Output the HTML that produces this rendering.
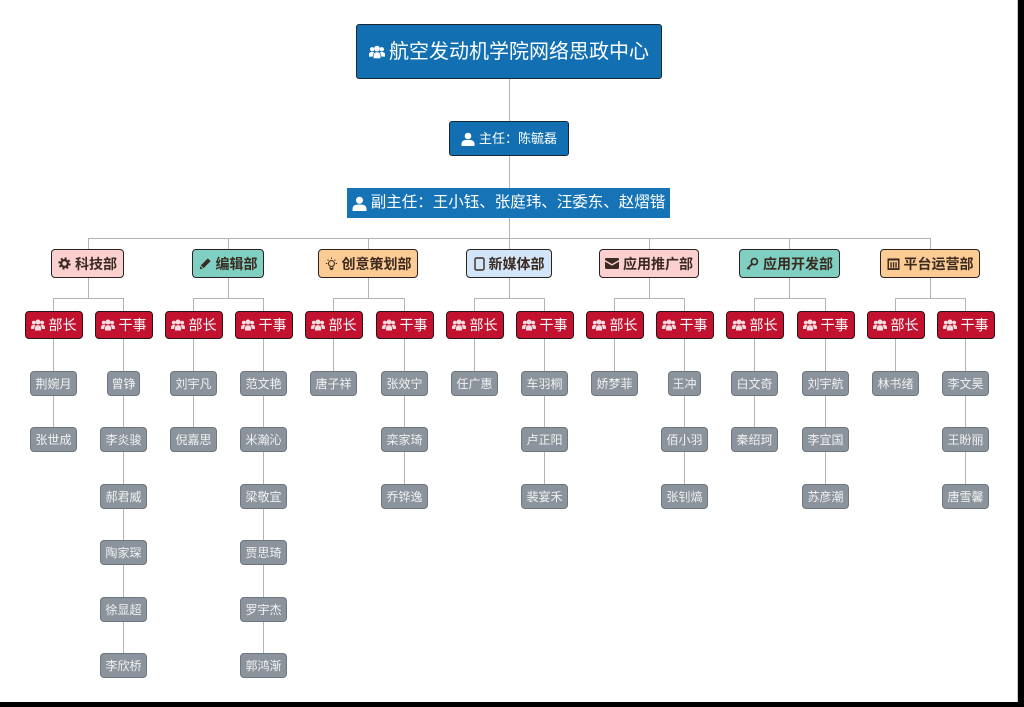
<!DOCTYPE html>
<html><head><meta charset="utf-8">
<style>
*{margin:0;padding:0;box-sizing:border-box}
html,body{width:1024px;height:707px;overflow:hidden;background:#fff}
body{position:relative;font-family:"Liberation Sans","Noto Sans CJK SC",sans-serif}
.b{position:absolute;display:flex;align-items:center;justify-content:center;line-height:1;white-space:nowrap}
.top{left:356px;top:24px;width:306px;height:55px;background:#1270b2;border:1.5px solid #1b2733;border-radius:3px;color:#fff;font-size:20px}
.zr{left:449px;top:121px;width:120px;height:35px;background:#1270b2;border:1.5px solid #1b2733;border-radius:3px;color:#fff;font-size:13px}
.fzr{left:347px;top:188px;width:323px;height:30px;background:#1674b6;color:#fff;font-size:15.5px}
.d{top:249px;height:29px;border:1.5px solid #2a2220;border-radius:4px;color:#3a2a20;font-size:14px;font-weight:bold}
.pk{background:#fcd0cf}.tl{background:#7fd0c2}.or{background:#fdcb94}.bl{background:#d3e5f8}
.r{top:311px;width:58px;height:28px;background:#c3122f;border:1.5px solid #2b1416;border-radius:4px;color:#fff;font-size:14px}
.n{height:25px;background:#8b949c;border:1px solid #6f777e;border-radius:4px;color:#f2f2f2;font-size:12px}
.w3{width:47px}.w2{width:33px}
svg.ic{margin-right:4px;flex:none}
</style></head><body>
<svg width="1024" height="707" style="position:absolute;left:0;top:0" shape-rendering="crispEdges">
<g stroke="#b3b3b3" stroke-width="1" fill="none">
<path d="M509.5 79V121M509.5 156V188M509.5 218V238"/>
<path d="M88 238.5H930.5"/>
<path d="M88.5 238V249M88.5 278V298M53.5 298.5H123.5M53.5 298V311M123.5 298V311"/>
<path d="M228.5 238V249M228.5 278V298M193.5 298.5H263.5M193.5 298V311M263.5 298V311"/>
<path d="M368.5 238V249M368.5 278V298M333.5 298.5H404.5M333.5 298V311M404.5 298V311"/>
<path d="M509.5 238V249M509.5 278V298M474.5 298.5H544.5M474.5 298V311M544.5 298V311"/>
<path d="M649.5 238V249M649.5 278V298M614.5 298.5H684.5M614.5 298V311M684.5 298V311"/>
<path d="M789.5 238V249M789.5 278V298M754.5 298.5H825.5M754.5 298V311M825.5 298V311"/>
<path d="M930.5 238V249M930.5 278V298M895.5 298.5H965.5M895.5 298V311M965.5 298V311"/>
<path d="M53.5 339V427M123.5 339V653M193.5 339V427M263.5 339V653M333.5 339V371M404.5 339V484M474.5 339V371M544.5 339V484M614.5 339V371M684.5 339V484M754.5 339V427M825.5 339V484M895.5 339V371M965.5 339V484"/>
</g>
<rect x="1017" y="0" width="1" height="702" fill="#ccc"/>
<rect x="1018" y="0" width="6" height="707" fill="#000"/>
<rect x="0" y="702" width="1024" height="5" fill="#000"/>
</svg>

<div class="b top"><svg class="ic" width="16" height="14" viewBox="0 0 14 12" fill="#fff"><circle cx="2.8" cy="3.6" r="1.9"/><circle cx="11.2" cy="3.6" r="1.9"/><circle cx="7" cy="3" r="2.5"/><path d="M0 10V8.2C0 6.7 1 6 2.8 6 3.6 6 4.2 6.2 4.6 6.5 3.6 7.2 3.3 8.2 3.3 10Z"/><path d="M14 10V8.2C14 6.7 13 6 11.2 6 10.4 6 9.8 6.2 9.4 6.5 10.4 7.2 10.7 8.2 10.7 10Z"/><path d="M4 11.5V9C4 7.2 5.2 6.2 7 6.2S10 7.2 10 9V11.5Z"/></svg>航空发动机学院网络思政中心</div>

<div class="b zr"><svg class="ic" width="14" height="14" viewBox="0 0 14 14" fill="#fff"><circle cx="7" cy="4" r="3.3"/><path d="M0.5 14V12C0.5 9.3 2.6 8 5 8H9C11.4 8 13.5 9.3 13.5 12V14Z"/></svg>主任：陈毓磊</div>

<div class="b fzr"><svg class="ic" width="15" height="15" viewBox="0 0 14 14" fill="#fff"><circle cx="7" cy="4" r="3.3"/><path d="M0.5 14V12C0.5 9.3 2.6 8 5 8H9C11.4 8 13.5 9.3 13.5 12V14Z"/></svg>副主任：王小钰、张庭玮、汪委东、赵熠锴</div>

<!-- departments -->
<div class="b d pk" style="left:51px;width:73px"><svg class="ic" width="13" height="13" viewBox="0 0 14 14"><circle cx="7" cy="7" r="5.4" fill="none" stroke="#3a2a20" stroke-width="2.4" stroke-dasharray="2.1 2.14"/><circle cx="7" cy="7" r="3.6" fill="none" stroke="#3a2a20" stroke-width="2.4"/></svg>科技部</div>
<div class="b d tl" style="left:192px;width:72px"><svg class="ic" width="13" height="13" viewBox="0 0 14 14" fill="#3a2a20"><path d="M9.5 1.5L12.5 4.5 5 12 2 9Z"/><path d="M1.5 10L4 12.5 0.8 13.2Z"/></svg>编辑部</div>
<div class="b d or" style="left:318px;width:100px"><svg class="ic" width="13" height="14" viewBox="0 0 14 15" fill="none" stroke="#3a2a20" stroke-width="1.1"><circle cx="7" cy="7" r="3.2"/><path d="M5.5 10.5V12.5H8.5V10.5M5.8 13.6H8.2"/><path d="M7 0.5V2M1 7H2.5M11.5 7H13M2.8 2.8L3.8 3.8M11.2 2.8L10.2 3.8"/></svg>创意策划部</div>
<div class="b d bl" style="left:466px;width:86px"><svg class="ic" width="11" height="14" viewBox="0 0 11 14" fill="none" stroke="#3a2a20" stroke-width="1.4"><rect x="1" y="1" width="9" height="12" rx="1.5"/></svg>新媒体部</div>
<div class="b d pk" style="left:599px;width:100px"><svg class="ic" width="14" height="11" viewBox="0 0 14 11" fill="#3a2a20"><path d="M0 1.2Q0 0 1.2 0H12.8Q14 0 14 1.2V2L7 6 0 2Z"/><path d="M0 3.6L7 7.6 14 3.6V9.8Q14 11 12.8 11H1.2Q0 11 0 9.8Z"/></svg>应用推广部</div>
<div class="b d tl" style="left:739px;width:101px"><svg class="ic" width="13" height="13" viewBox="0 0 14 14" fill="none" stroke="#3a2a20" stroke-width="1.8"><circle cx="9" cy="5" r="3.3"/><path d="M6.6 7.4L1.2 12.8M2.4 11.6L4 13.2"/></svg>应用开发部</div>
<div class="b d or" style="left:880px;width:100px"><svg class="ic" width="13" height="12" viewBox="0 0 14 13" fill="#3a2a20"><rect x="0.5" y="0.5" width="13" height="2.2"/><rect x="0.5" y="11" width="13" height="2"/><rect x="0.5" y="2" width="1.6" height="10"/><rect x="11.9" y="2" width="1.6" height="10"/><rect x="3.6" y="4.5" width="1.5" height="6"/><rect x="6.3" y="4.5" width="1.5" height="6"/><rect x="9" y="4.5" width="1.5" height="6"/></svg>平台运营部</div>

<!-- red role boxes -->
<div class="b r" style="left:24.5px"><svg class="ic" width="14" height="12" viewBox="0 0 14 12" fill="#f6dde0"><circle cx="2.8" cy="3.6" r="1.9"/><circle cx="11.2" cy="3.6" r="1.9"/><circle cx="7" cy="3" r="2.5"/><path d="M0 10V8.2C0 6.7 1 6 2.8 6 3.6 6 4.2 6.2 4.6 6.5 3.6 7.2 3.3 8.2 3.3 10Z"/><path d="M14 10V8.2C14 6.7 13 6 11.2 6 10.4 6 9.8 6.2 9.4 6.5 10.4 7.2 10.7 8.2 10.7 10Z"/><path d="M4 11.5V9C4 7.2 5.2 6.2 7 6.2S10 7.2 10 9V11.5Z"/></svg>部长</div>
<div class="b r" style="left:94.5px"><svg class="ic" width="14" height="12" viewBox="0 0 14 12" fill="#f6dde0"><circle cx="2.8" cy="3.6" r="1.9"/><circle cx="11.2" cy="3.6" r="1.9"/><circle cx="7" cy="3" r="2.5"/><path d="M0 10V8.2C0 6.7 1 6 2.8 6 3.6 6 4.2 6.2 4.6 6.5 3.6 7.2 3.3 8.2 3.3 10Z"/><path d="M14 10V8.2C14 6.7 13 6 11.2 6 10.4 6 9.8 6.2 9.4 6.5 10.4 7.2 10.7 8.2 10.7 10Z"/><path d="M4 11.5V9C4 7.2 5.2 6.2 7 6.2S10 7.2 10 9V11.5Z"/></svg>干事</div>
<div class="b r" style="left:164.5px"><svg class="ic" width="14" height="12" viewBox="0 0 14 12" fill="#f6dde0"><circle cx="2.8" cy="3.6" r="1.9"/><circle cx="11.2" cy="3.6" r="1.9"/><circle cx="7" cy="3" r="2.5"/><path d="M0 10V8.2C0 6.7 1 6 2.8 6 3.6 6 4.2 6.2 4.6 6.5 3.6 7.2 3.3 8.2 3.3 10Z"/><path d="M14 10V8.2C14 6.7 13 6 11.2 6 10.4 6 9.8 6.2 9.4 6.5 10.4 7.2 10.7 8.2 10.7 10Z"/><path d="M4 11.5V9C4 7.2 5.2 6.2 7 6.2S10 7.2 10 9V11.5Z"/></svg>部长</div>
<div class="b r" style="left:234.5px"><svg class="ic" width="14" height="12" viewBox="0 0 14 12" fill="#f6dde0"><circle cx="2.8" cy="3.6" r="1.9"/><circle cx="11.2" cy="3.6" r="1.9"/><circle cx="7" cy="3" r="2.5"/><path d="M0 10V8.2C0 6.7 1 6 2.8 6 3.6 6 4.2 6.2 4.6 6.5 3.6 7.2 3.3 8.2 3.3 10Z"/><path d="M14 10V8.2C14 6.7 13 6 11.2 6 10.4 6 9.8 6.2 9.4 6.5 10.4 7.2 10.7 8.2 10.7 10Z"/><path d="M4 11.5V9C4 7.2 5.2 6.2 7 6.2S10 7.2 10 9V11.5Z"/></svg>干事</div>
<div class="b r" style="left:304.5px"><svg class="ic" width="14" height="12" viewBox="0 0 14 12" fill="#f6dde0"><circle cx="2.8" cy="3.6" r="1.9"/><circle cx="11.2" cy="3.6" r="1.9"/><circle cx="7" cy="3" r="2.5"/><path d="M0 10V8.2C0 6.7 1 6 2.8 6 3.6 6 4.2 6.2 4.6 6.5 3.6 7.2 3.3 8.2 3.3 10Z"/><path d="M14 10V8.2C14 6.7 13 6 11.2 6 10.4 6 9.8 6.2 9.4 6.5 10.4 7.2 10.7 8.2 10.7 10Z"/><path d="M4 11.5V9C4 7.2 5.2 6.2 7 6.2S10 7.2 10 9V11.5Z"/></svg>部长</div>
<div class="b r" style="left:375.5px"><svg class="ic" width="14" height="12" viewBox="0 0 14 12" fill="#f6dde0"><circle cx="2.8" cy="3.6" r="1.9"/><circle cx="11.2" cy="3.6" r="1.9"/><circle cx="7" cy="3" r="2.5"/><path d="M0 10V8.2C0 6.7 1 6 2.8 6 3.6 6 4.2 6.2 4.6 6.5 3.6 7.2 3.3 8.2 3.3 10Z"/><path d="M14 10V8.2C14 6.7 13 6 11.2 6 10.4 6 9.8 6.2 9.4 6.5 10.4 7.2 10.7 8.2 10.7 10Z"/><path d="M4 11.5V9C4 7.2 5.2 6.2 7 6.2S10 7.2 10 9V11.5Z"/></svg>干事</div>
<div class="b r" style="left:445.5px"><svg class="ic" width="14" height="12" viewBox="0 0 14 12" fill="#f6dde0"><circle cx="2.8" cy="3.6" r="1.9"/><circle cx="11.2" cy="3.6" r="1.9"/><circle cx="7" cy="3" r="2.5"/><path d="M0 10V8.2C0 6.7 1 6 2.8 6 3.6 6 4.2 6.2 4.6 6.5 3.6 7.2 3.3 8.2 3.3 10Z"/><path d="M14 10V8.2C14 6.7 13 6 11.2 6 10.4 6 9.8 6.2 9.4 6.5 10.4 7.2 10.7 8.2 10.7 10Z"/><path d="M4 11.5V9C4 7.2 5.2 6.2 7 6.2S10 7.2 10 9V11.5Z"/></svg>部长</div>
<div class="b r" style="left:515.5px"><svg class="ic" width="14" height="12" viewBox="0 0 14 12" fill="#f6dde0"><circle cx="2.8" cy="3.6" r="1.9"/><circle cx="11.2" cy="3.6" r="1.9"/><circle cx="7" cy="3" r="2.5"/><path d="M0 10V8.2C0 6.7 1 6 2.8 6 3.6 6 4.2 6.2 4.6 6.5 3.6 7.2 3.3 8.2 3.3 10Z"/><path d="M14 10V8.2C14 6.7 13 6 11.2 6 10.4 6 9.8 6.2 9.4 6.5 10.4 7.2 10.7 8.2 10.7 10Z"/><path d="M4 11.5V9C4 7.2 5.2 6.2 7 6.2S10 7.2 10 9V11.5Z"/></svg>干事</div>
<div class="b r" style="left:585.5px"><svg class="ic" width="14" height="12" viewBox="0 0 14 12" fill="#f6dde0"><circle cx="2.8" cy="3.6" r="1.9"/><circle cx="11.2" cy="3.6" r="1.9"/><circle cx="7" cy="3" r="2.5"/><path d="M0 10V8.2C0 6.7 1 6 2.8 6 3.6 6 4.2 6.2 4.6 6.5 3.6 7.2 3.3 8.2 3.3 10Z"/><path d="M14 10V8.2C14 6.7 13 6 11.2 6 10.4 6 9.8 6.2 9.4 6.5 10.4 7.2 10.7 8.2 10.7 10Z"/><path d="M4 11.5V9C4 7.2 5.2 6.2 7 6.2S10 7.2 10 9V11.5Z"/></svg>部长</div>
<div class="b r" style="left:655.5px"><svg class="ic" width="14" height="12" viewBox="0 0 14 12" fill="#f6dde0"><circle cx="2.8" cy="3.6" r="1.9"/><circle cx="11.2" cy="3.6" r="1.9"/><circle cx="7" cy="3" r="2.5"/><path d="M0 10V8.2C0 6.7 1 6 2.8 6 3.6 6 4.2 6.2 4.6 6.5 3.6 7.2 3.3 8.2 3.3 10Z"/><path d="M14 10V8.2C14 6.7 13 6 11.2 6 10.4 6 9.8 6.2 9.4 6.5 10.4 7.2 10.7 8.2 10.7 10Z"/><path d="M4 11.5V9C4 7.2 5.2 6.2 7 6.2S10 7.2 10 9V11.5Z"/></svg>干事</div>
<div class="b r" style="left:725.5px"><svg class="ic" width="14" height="12" viewBox="0 0 14 12" fill="#f6dde0"><circle cx="2.8" cy="3.6" r="1.9"/><circle cx="11.2" cy="3.6" r="1.9"/><circle cx="7" cy="3" r="2.5"/><path d="M0 10V8.2C0 6.7 1 6 2.8 6 3.6 6 4.2 6.2 4.6 6.5 3.6 7.2 3.3 8.2 3.3 10Z"/><path d="M14 10V8.2C14 6.7 13 6 11.2 6 10.4 6 9.8 6.2 9.4 6.5 10.4 7.2 10.7 8.2 10.7 10Z"/><path d="M4 11.5V9C4 7.2 5.2 6.2 7 6.2S10 7.2 10 9V11.5Z"/></svg>部长</div>
<div class="b r" style="left:796.5px"><svg class="ic" width="14" height="12" viewBox="0 0 14 12" fill="#f6dde0"><circle cx="2.8" cy="3.6" r="1.9"/><circle cx="11.2" cy="3.6" r="1.9"/><circle cx="7" cy="3" r="2.5"/><path d="M0 10V8.2C0 6.7 1 6 2.8 6 3.6 6 4.2 6.2 4.6 6.5 3.6 7.2 3.3 8.2 3.3 10Z"/><path d="M14 10V8.2C14 6.7 13 6 11.2 6 10.4 6 9.8 6.2 9.4 6.5 10.4 7.2 10.7 8.2 10.7 10Z"/><path d="M4 11.5V9C4 7.2 5.2 6.2 7 6.2S10 7.2 10 9V11.5Z"/></svg>干事</div>
<div class="b r" style="left:866.5px"><svg class="ic" width="14" height="12" viewBox="0 0 14 12" fill="#f6dde0"><circle cx="2.8" cy="3.6" r="1.9"/><circle cx="11.2" cy="3.6" r="1.9"/><circle cx="7" cy="3" r="2.5"/><path d="M0 10V8.2C0 6.7 1 6 2.8 6 3.6 6 4.2 6.2 4.6 6.5 3.6 7.2 3.3 8.2 3.3 10Z"/><path d="M14 10V8.2C14 6.7 13 6 11.2 6 10.4 6 9.8 6.2 9.4 6.5 10.4 7.2 10.7 8.2 10.7 10Z"/><path d="M4 11.5V9C4 7.2 5.2 6.2 7 6.2S10 7.2 10 9V11.5Z"/></svg>部长</div>
<div class="b r" style="left:936.5px"><svg class="ic" width="14" height="12" viewBox="0 0 14 12" fill="#f6dde0"><circle cx="2.8" cy="3.6" r="1.9"/><circle cx="11.2" cy="3.6" r="1.9"/><circle cx="7" cy="3" r="2.5"/><path d="M0 10V8.2C0 6.7 1 6 2.8 6 3.6 6 4.2 6.2 4.6 6.5 3.6 7.2 3.3 8.2 3.3 10Z"/><path d="M14 10V8.2C14 6.7 13 6 11.2 6 10.4 6 9.8 6.2 9.4 6.5 10.4 7.2 10.7 8.2 10.7 10Z"/><path d="M4 11.5V9C4 7.2 5.2 6.2 7 6.2S10 7.2 10 9V11.5Z"/></svg>干事</div>

<!-- names: 科技部 -->
<div class="b n w3" style="left:30px;top:371px">荆婉月</div>
<div class="b n w3" style="left:30px;top:427px">张世成</div>
<div class="b n w2" style="left:107px;top:371px">曾铮</div>
<div class="b n w3" style="left:100px;top:427px">李炎骏</div>
<div class="b n w3" style="left:100px;top:484px">郝君威</div>
<div class="b n w3" style="left:100px;top:540px">陶家琛</div>
<div class="b n w3" style="left:100px;top:597px">徐显超</div>
<div class="b n w3" style="left:100px;top:653px">李欣桥</div>
<!-- 编辑部 -->
<div class="b n w3" style="left:170px;top:371px">刘宇凡</div>
<div class="b n w3" style="left:170px;top:427px">倪嘉思</div>
<div class="b n w3" style="left:240px;top:371px">范文艳</div>
<div class="b n w3" style="left:240px;top:427px">米瀚沁</div>
<div class="b n w3" style="left:240px;top:484px">梁敬宜</div>
<div class="b n w3" style="left:240px;top:540px">贾思琦</div>
<div class="b n w3" style="left:240px;top:597px">罗宇杰</div>
<div class="b n w3" style="left:240px;top:653px">郭鸿渐</div>
<!-- 创意策划部 -->
<div class="b n w3" style="left:310px;top:371px">唐子祥</div>
<div class="b n w3" style="left:381px;top:371px">张效宁</div>
<div class="b n w3" style="left:381px;top:427px">栾家琦</div>
<div class="b n w3" style="left:381px;top:484px">乔铧逸</div>
<!-- 新媒体部 -->
<div class="b n w3" style="left:451px;top:371px">任广惠</div>
<div class="b n w3" style="left:521px;top:371px">车羽桐</div>
<div class="b n w3" style="left:521px;top:427px">卢正阳</div>
<div class="b n w3" style="left:521px;top:484px">裴宴禾</div>
<!-- 应用推广部 -->
<div class="b n w3" style="left:591px;top:371px">娇梦菲</div>
<div class="b n w2" style="left:668px;top:371px">王冲</div>
<div class="b n w3" style="left:661px;top:427px">佰小羽</div>
<div class="b n w3" style="left:661px;top:484px">张钊熇</div>
<!-- 应用开发部 -->
<div class="b n w3" style="left:731px;top:371px">白文奇</div>
<div class="b n w3" style="left:731px;top:427px">秦绍珂</div>
<div class="b n w3" style="left:802px;top:371px">刘宇航</div>
<div class="b n w3" style="left:802px;top:427px">李宜国</div>
<div class="b n w3" style="left:802px;top:484px">苏彦潮</div>
<!-- 平台运营部 -->
<div class="b n w3" style="left:872px;top:371px">林书绪</div>
<div class="b n w3" style="left:942px;top:371px">李文昊</div>
<div class="b n w3" style="left:942px;top:427px">王盼丽</div>
<div class="b n w3" style="left:942px;top:484px">唐雪馨</div>
</body></html>
